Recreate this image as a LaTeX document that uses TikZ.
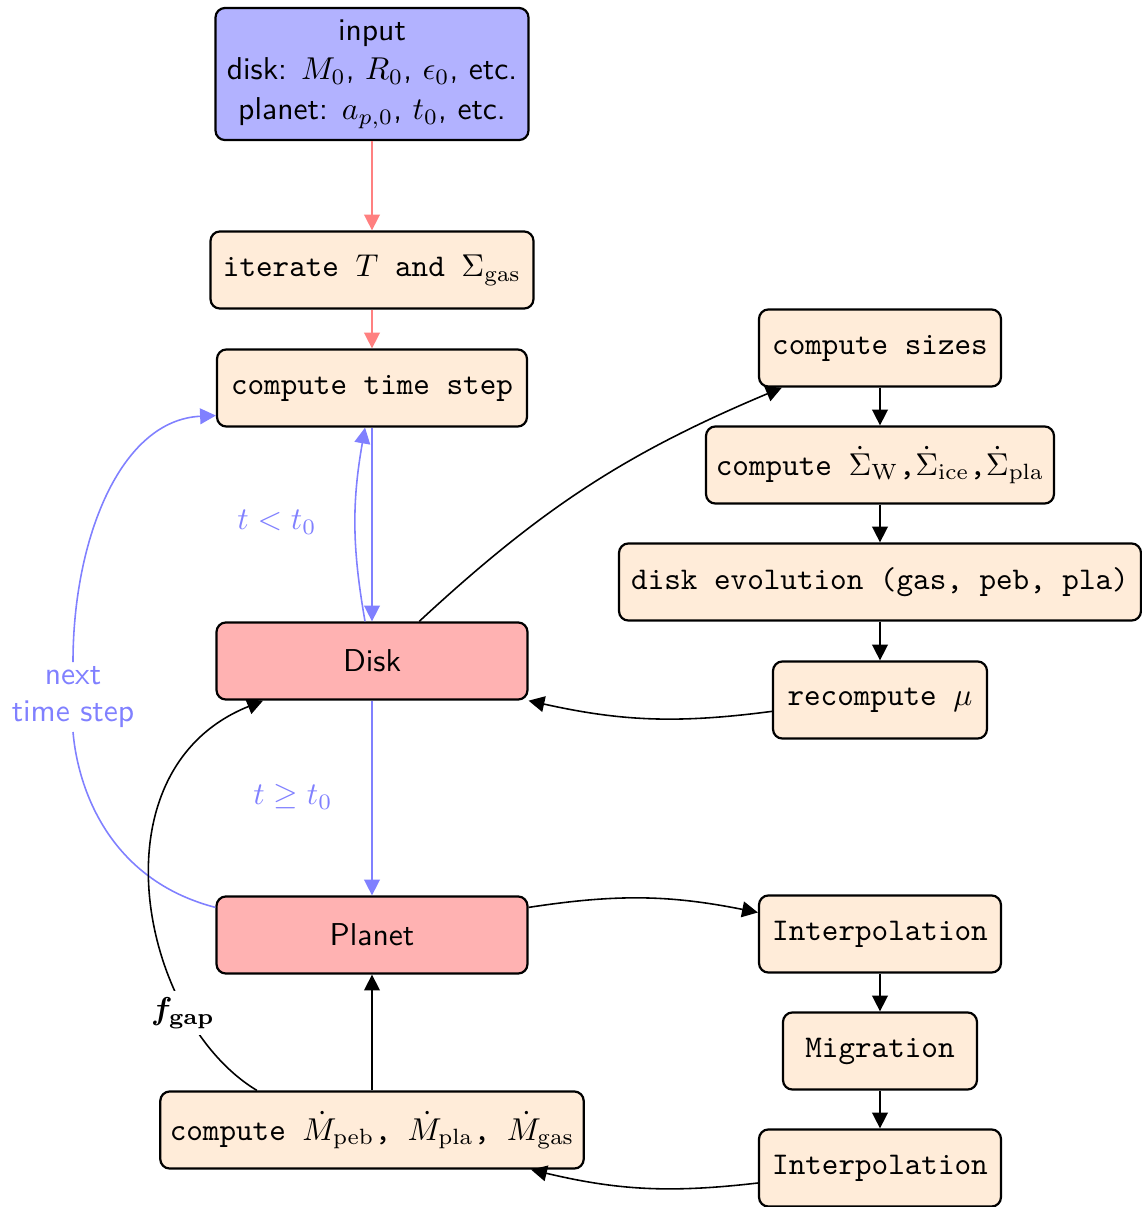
\documentclass[tikz,border=0pt]{standalone}
\usepackage{bm}
\usetikzlibrary{arrows.meta}
\begin{document}
\begin{tikzpicture}[x=0.3165pt,y=0.3165pt, line width=0.5pt,
  box/.style={draw, line width=0.7pt, rounded corners=3pt, minimum height=24.4pt, inner sep=3pt, font=\ttfamily, fill=orange!15},
  boxw/.style={minimum width=#1*0.3165pt},
  sfbox/.style={box, font=\sffamily, fill=red!30},
  arr/.style={-{Triangle[length=5pt,width=5pt]}},
  redarr/.style={arr, draw=red!50},
  bluearr/.style={arr, draw=blue!50},
  blueline/.style={draw=blue!50},
  bluetxt/.style={text=blue!50}]
\useasboundingbox (0,0) rectangle (1142,-1207);

% left column
\node[box, font=\sffamily, fill=blue!30, align=center, boxw=313, minimum height=41.8pt] (input) at (372,-74)
  {input\\[0.6pt]disk: $M_0$, $R_0$, $\epsilon_0$, etc.\\[0.6pt]planet: $a_{p,0}$, $t_0$, etc.};
\node[box, boxw=323] (iter) at (372,-270) {iterate $T$ and $\Sigma_{\rm gas}$};
\node[box, boxw=310] (cts) at (372,-388) {compute time step};
\node[sfbox, boxw=311] (disk) at (372,-661) {Disk};
\node[sfbox, boxw=311] (planet) at (372,-935) {Planet};
\node[box, boxw=423] (mdot) at (372,-1130) {compute $\dot M_{\rm peb}$, $\dot M_{\rm pla}$, $\dot M_{\rm gas}$};

% right column
\node[box, boxw=242] (sizes) at (880,-348) {compute sizes};
\node[box, boxw=348] (sigma) at (880,-465) {compute $\dot\Sigma_{\rm W}$,$\dot\Sigma_{\rm ice}$,$\dot\Sigma_{\rm pla}$};
\node[box, boxw=522] (evol) at (880,-582) {disk evolution (gas, peb, pla)};
\node[box, boxw=214] (mu) at (880,-700) {recompute $\mu$};
\node[box, boxw=242] (interpa) at (880,-934) {Interpolation};
\node[box, boxw=194] (migr) at (880,-1051) {Migration};
\node[box, boxw=242] (interpb) at (880,-1168) {Interpolation};

% labels
\node[bluetxt] (lt) at (277,-522) {$t<t_0$};
\node[bluetxt] (ge) at (293,-797) {$t\geq t_0$};
\node[bluetxt, font=\sffamily, align=center, inner sep=1pt] (nts) at (73,-697) {next\\time step};

% red flow
\draw[redarr] (input) -- (iter);
\draw[redarr] (iter) -- (cts);

% blue flow
\draw[bluearr] (cts) -- (disk);
\draw[bluearr] ([xshift=-2.2pt]disk.north) to[bend left=10] ([xshift=-2.2pt]cts.south);
\draw[bluearr] (disk) -- (planet);
\draw[blueline] (planet.170) .. controls (110,-880) and (78,-790) .. (nts.south);
\draw[bluearr] (nts.north) .. controls (73,-540) and (120,-420) .. (cts.190);

% black flow
\draw[arr] (disk.40) to[bend left=10] (sizes.202);
\draw[arr] (sizes) -- (sigma);
\draw[arr] (sigma) -- (evol);
\draw[arr] (evol) -- (mu);
\draw[arr] (mu.186) to[bend left=10] (disk.south east);
\draw[arr] (planet.10) to[bend left=10] (interpa.170);
\draw[arr] (interpa) -- (migr);
\draw[arr] (migr) -- (interpb);
\draw[arr] (interpb.187) to[bend left=10] (mdot.-14);
\draw[arr] (mdot) -- (planet);
\draw[arr] (mdot.161) .. controls (140,-1020) and (90,-770) .. (disk.200);
\node[fill=white, inner sep=2pt] (fgap) at (183,-1013) {$\bm{f}_{\mathbf{gap}}$};
\end{tikzpicture}
\end{document}
